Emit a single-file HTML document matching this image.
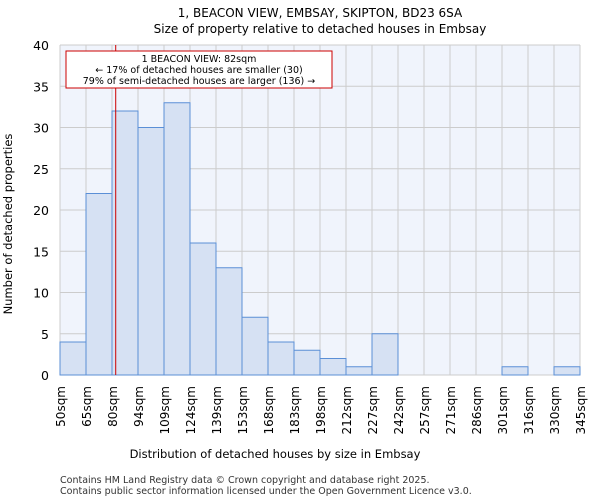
<!DOCTYPE html>
<html><head><meta charset="utf-8"><style>body{margin:0;background:#fff}svg{display:block;font-family:"DejaVu Sans","Liberation Sans",sans-serif}</style></head>
<body>
<svg id="c" width="600" height="500" xmlns="http://www.w3.org/2000/svg">
<text x="320" y="17" text-anchor="middle" font-size="12">1, BEACON VIEW, EMBSAY, SKIPTON, BD23 6SA</text>
<text x="320" y="33" text-anchor="middle" font-size="12">Size of property relative to detached houses in Embsay</text>
<rect x="60" y="45" width="520" height="330" fill="#f0f4fc"/>
<g id="grid"></g><g id="bars"></g><g id="xt"></g><g id="yt"></g>
<line id="redline" y1="45" y2="375" stroke="#cc0000" stroke-width="1"/>
<rect x="66" y="51" width="266" height="37" fill="#fff" stroke="#cc0000" stroke-width="1"/>
<text x="199" y="62" text-anchor="middle" font-size="9.5">1 BEACON VIEW: 82sqm</text>
<text x="199" y="73" text-anchor="middle" font-size="9.5">← 17% of detached houses are smaller (30)</text>
<text x="199" y="84" text-anchor="middle" font-size="9.5">79% of semi-detached houses are larger (136) →</text>
<text x="275" y="458" text-anchor="middle" font-size="11.5">Distribution of detached houses by size in Embsay</text>
<text transform="translate(12,224) rotate(-90)" text-anchor="middle" font-size="11.5">Number of detached properties</text>
<text x="60" y="483" font-size="9.5" fill="#333">Contains HM Land Registry data © Crown copyright and database right 2025.</text>
<text x="60" y="494" font-size="9.5" fill="#333">Contains public sector information licensed under the Open Government Licence v3.0.</text>
</svg>
<script>
const binLabels=["50sqm","65sqm","80sqm","94sqm","109sqm","124sqm","139sqm","153sqm","168sqm","183sqm","198sqm","212sqm","227sqm","242sqm","257sqm","271sqm","286sqm","301sqm","316sqm","330sqm","345sqm"];
const binEdges=[50,65,80,94,109,124,139,153,168,183,198,212,227,242,257,271,286,301,316,330,345];
const counts=[4,22,32,30,33,16,13,7,4,3,2,1,5,0,0,0,0,1,0,1];
const yTicks=[0,5,10,15,20,25,30,35,40];
const propertySize=82;
const NS="http://www.w3.org/2000/svg";
const X0=60,X1=580,Y0=375,Y1=45,n=counts.length;
const xi=i=>X0+(X1-X0)*i/n;
const y=v=>Y0-(Y0-Y1)*v/40;
function xv(v){for(let i=0;i<binEdges.length-1;i++){if(v<=binEdges[i+1])return xi(i)+(v-binEdges[i])/(binEdges[i+1]-binEdges[i])*(xi(i+1)-xi(i));}return X1;}
function mk(t,a,p){const e=document.createElementNS(NS,t);for(const k in a)e.setAttribute(k,a[k]);p.appendChild(e);return e;}
const g=document.getElementById('grid'),b=document.getElementById('bars'),xt=document.getElementById('xt'),yt=document.getElementById('yt');
yTicks.forEach(v=>{const l=mk('line',{x1:X0,x2:X1,y1:y(v),y2:y(v),stroke:'#cccccc'},g);


const t=mk('text',{x:X0-11,y:y(v)+5,'text-anchor':'end','font-size':12.5},yt);t.textContent=v;

});
binLabels.forEach((s,i)=>{const l=mk('line',{x1:xi(i),x2:xi(i),y1:Y1,y2:Y0,stroke:'#cccccc'},g);


const t=mk('text',{transform:`translate(${xi(i)+5},386) rotate(-90)`,'text-anchor':'end','font-size':12},xt);t.textContent=s;

});
counts.forEach((c,i)=>{if(c<=0)return;const r=mk('rect',{x:xi(i),y:y(c),width:xi(i+1)-xi(i),height:Y0-y(c),fill:'#d6e1f3',stroke:'#5b8fd6','stroke-width':1},b);

});
const rl=document.getElementById('redline');rl.setAttribute('x1',xv(propertySize));rl.setAttribute('x2',xv(propertySize));
</script>
</body></html>
